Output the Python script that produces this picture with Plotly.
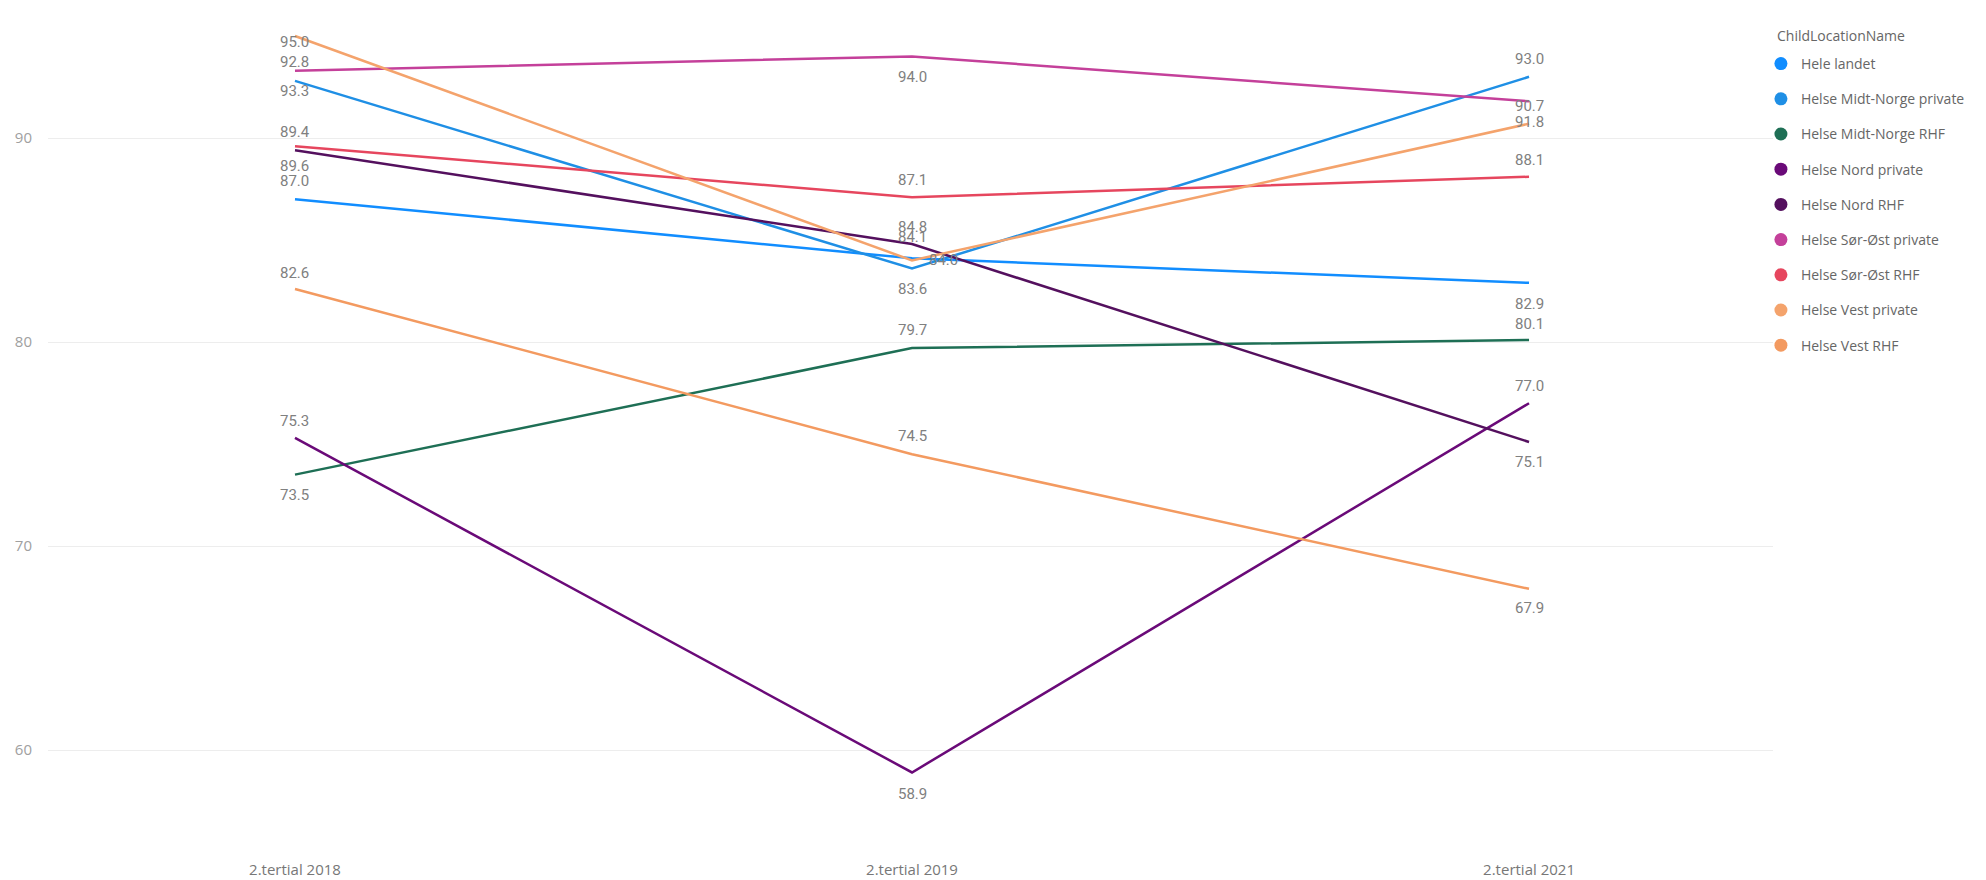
import plotly.graph_objects as go

# ---------------- data ----------------
categories = ["2.tertial 2018", "2.tertial 2019", "2.tertial 2021"]

series_names = [
    "Hele landet",
    "Helse Midt-Norge private",
    "Helse Midt-Norge RHF",
    "Helse Nord private",
    "Helse Nord RHF",
    "Helse Sør-Øst private",
    "Helse Sør-Øst RHF",
    "Helse Vest private",
    "Helse Vest RHF",
]

hele_landet = [87.0, 84.1, 82.9]
midt_norge_private = [92.8, 83.6, 93.0]
midt_norge_rhf = [73.5, 79.7, 80.1]
nord_private = [75.3, 58.9, 77.0]
nord_rhf = [89.4, 84.8, 75.1]
sor_ost_private = [93.3, 94.0, 91.8]
sor_ost_rhf = [89.6, 87.1, 88.1]
vest_private = [95.0, 84.0, 90.7]
vest_rhf = [82.6, 74.5, 67.9]

series_values = [
    hele_landet, midt_norge_private, midt_norge_rhf, nord_private, nord_rhf,
    sor_ost_private, sor_ost_rhf, vest_private, vest_rhf,
]

legend_title = "ChildLocationName"

# ---------------- styles ----------------
colors = [
    "#118DFF", "#1F8FE5", "#1E6F55", "#6A0A78", "#54105E",
    "#C4409A", "#E6465E", "#F4A36C", "#F39A60",
]

# label offsets in pixels (xshift, yshift) per series per category
A, B = 18, -20
label_shifts = [
    [(0, A), (0, 21), (0, -21)],
    [(0, 19), (0, B), (0, A)],
    [(0, B), (0, A), (0, 16)],
    [(0, 17), (0, -22), (0, 17)],
    [(0, A), (0, 17), (0, B)],
    [(0, B), (0, -21), (0, -21)],
    [(0, B), (0, 17), (0, 17)],
    [(0, -6), (31, 0), (0, 18)],
    [(0, 16), (0, A), (0, -19)],
]

# plot area: top 20 px, bottom 825 px (of 880)
PLOT_TOP, PLOT_BOTTOM = 20, 825
PLOT_H = PLOT_BOTTOM - PLOT_TOP


def paper_y(px):
    return (PLOT_BOTTOM - px) / PLOT_H


fig = go.Figure()

for name, vals, col in zip(series_names, series_values, colors):
    fig.add_trace(go.Scatter(
        x=categories, y=vals, mode="lines", name=name,
        line=dict(color=col, width=2.5), showlegend=False,
        hoverinfo="x+y+name",
    ))

# legend entries (circle markers as in the original)
for name, col in zip(series_names, colors):
    fig.add_trace(go.Scatter(
        x=[None], y=[None], mode="markers", name=name, legendgroup=name,
        marker=dict(color=col, size=13), showlegend=True,
    ))

annotations = []
for vals, shifts in zip(series_values, label_shifts):
    for cat, v, (dx, dy) in zip(categories, vals, shifts):
        annotations.append(dict(
            x=cat, y=v, xref="x", yref="y", text=f"{v:.1f}", showarrow=False,
            xanchor="center", yanchor="middle", xshift=dx, yshift=dy,
            font=dict(family="Roboto", size=15, color="#808080"),
        ))

# legend title as text
annotations.append(dict(
    x=1.0012, y=paper_y(35), xref="paper", yref="paper", text=legend_title,
    showarrow=False, xanchor="left", yanchor="middle",
    font=dict(family="Open Sans", size=14, color="#666666"),
))

fig.update_layout(
    width=1986, height=880,
    margin=dict(l=48, r=213, t=PLOT_TOP, b=880 - PLOT_BOTTOM),
    paper_bgcolor="white", plot_bgcolor="white",
    font=dict(family="Open Sans", color="#666666"),
    annotations=annotations,
    showlegend=True,
    legend=dict(
        x=0.993, xanchor="left", y=paper_y(48), yanchor="top",
        font=dict(family="Open Sans", size=14, color="#666666"),
        tracegroupgap=14, itemwidth=30, bgcolor="rgba(0,0,0,0)",
    ),
    xaxis=dict(
        type="category", categoryorder="array", categoryarray=categories,
        range=[-0.4003, 2.3954], showgrid=False, zeroline=False, showline=False,
        ticks="outside", ticklen=31, tickcolor="rgba(0,0,0,0)", automargin=False,
        tickfont=dict(family="Open Sans", size=15, color="#777777"),
    ),
    yaxis=dict(
        range=[56.324, 95.784], tickvals=[60, 70, 80, 90],
        showgrid=True, gridcolor="#EDEDED", gridwidth=1, zeroline=False, showline=False,
        ticks="outside", ticklen=12, tickcolor="rgba(0,0,0,0)", automargin=False,
        tickfont=dict(family="Open Sans", size=15, color="#A0A0A0"),
    ),
)

fig.write_html("out.html", config={"displayModeBar": False},
               post_script="document.body.style.margin='0';")
